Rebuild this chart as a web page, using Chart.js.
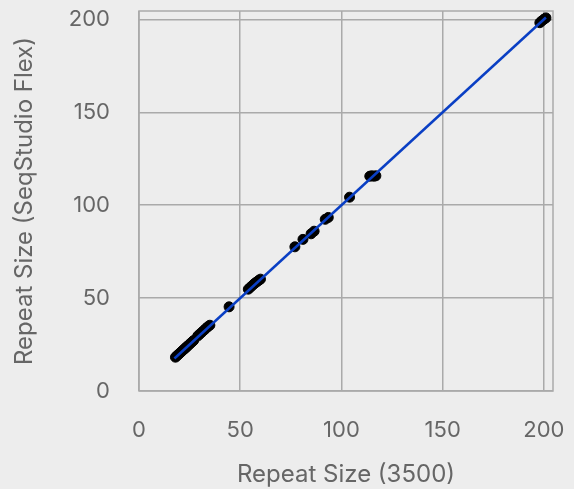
<!DOCTYPE html>
<html>
<head>
<meta charset="utf-8">
<script src="https://cdn.jsdelivr.net/npm/chart.js@4/dist/chart.umd.min.js"></script>
<style>
  html, body { margin: 0; padding: 0; background: #ededed; }
  #wrap { width: 574px; height: 489px; }
</style>
</head>
<body>
<div id="wrap"><canvas id="c" width="574" height="489"></canvas></div>
<script>
// Repeat sizes measured on 3500 (x) and SeqStudio Flex (y)
const size3500 = [18, 18.6, 19.2, 19.8, 20.4, 21, 21.6, 22.2, 22.8, 23.4, 24, 24.8, 25.6, 26.4, 27,
                  29, 30, 31, 32, 33, 34, 35,
                  44.5,
                  54, 55, 56, 57, 58, 59, 60,
                  77, 81, 85, 86.5, 92, 93.5,
                  104,
                  114, 115, 116, 117,
                  198, 199, 200, 201];
const sizeFlex = [18.2, 18.8, 19.4, 20, 20.6, 21.2, 21.8, 22.4, 23, 23.6, 24.2, 25, 25.8, 26.6, 27.2,
                  29.6, 30.6, 31.6, 32.6, 33.6, 34.6, 35.4,
                  45.3,
                  54.8, 55.8, 56.8, 57.8, 58.6, 59.4, 60.2,
                  77.6, 81.6, 84.6, 86, 92.4, 93.4,
                  104.3,
                  115.6, 115.8, 115.6, 115.8,
                  198.2, 199.2, 200, 200.8];
const fitX = [17.5, 201];
const fitY = [17.5, 201];
const tickValues = [0, 50, 100, 150, 200];
const axisMin = 0, axisMax = 204.5;

const pts = size3500.map((x, i) => ({ x: x, y: sizeFlex[i] }));
const fit = fitX.map((x, i) => ({ x: x, y: fitY[i] }));

const frame = {
  id: 'frame',
  afterDraw(chart) {
    const a = chart.chartArea, ctx = chart.ctx;
    ctx.save();
    ctx.strokeStyle = '#aaaaaa';
    ctx.lineWidth = 1.5;
    ctx.strokeRect(a.left, a.top, a.right - a.left, a.bottom - a.top);
    ctx.restore();
  }
};

const tickFont = { family: 'Inter', size: 22, lineHeight: 1 };
const titleFont = { family: 'Inter', size: 24 };
const textColor = '#666666';

new Chart(document.getElementById('c'), {
  type: 'scatter',
  data: {
    datasets: [
      { type: 'line', data: fit, borderColor: '#0a3fc4', borderWidth: 2.5, pointRadius: 0, fill: false, order: 0 },
      { data: pts, backgroundColor: '#000000', borderColor: '#000000', pointRadius: 5, pointHoverRadius: 5, order: 1 }
    ]
  },
  plugins: [frame],
  options: {
    responsive: false,
    animation: false,
    events: [],
    layout: { padding: { top: 0, right: 21, left: 0, bottom: 0 } },
    plugins: { legend: { display: false }, tooltip: { enabled: false } },
    scales: {
      x: {
        type: 'linear', min: axisMin, max: axisMax,
        afterBuildTicks: s => { s.ticks = tickValues.map(v => ({ value: v })); },
        afterFit: s => { s.height = 98; },
        grid: { color: '#aaaaaa', lineWidth: 1.5, drawTicks: true, tickLength: 28, tickColor: 'rgba(0,0,0,0)' },
        border: { display: false },
        ticks: { color: textColor, font: tickFont, padding: 0, maxRotation: 0 },
        title: { display: true, text: 'Repeat Size (3500)', color: textColor, font: titleFont, padding: { top: 0, bottom: 0 } }
      },
      y: {
        type: 'linear', min: axisMin, max: axisMax,
        afterBuildTicks: s => { s.ticks = tickValues.map(v => ({ value: v })); },
        afterFit: s => { s.width = 139; },
        grid: { color: '#aaaaaa', lineWidth: 1.5, drawTicks: true, tickLength: 29, tickColor: 'rgba(0,0,0,0)' },
        border: { display: false },
        ticks: { color: textColor, font: tickFont, padding: 0 },
        title: { display: true, text: 'Repeat Size (SeqStudio Flex)', color: textColor, font: titleFont, padding: { top: 10, bottom: 0 } }
      }
    }
  }
});
</script>
</body>
</html>
